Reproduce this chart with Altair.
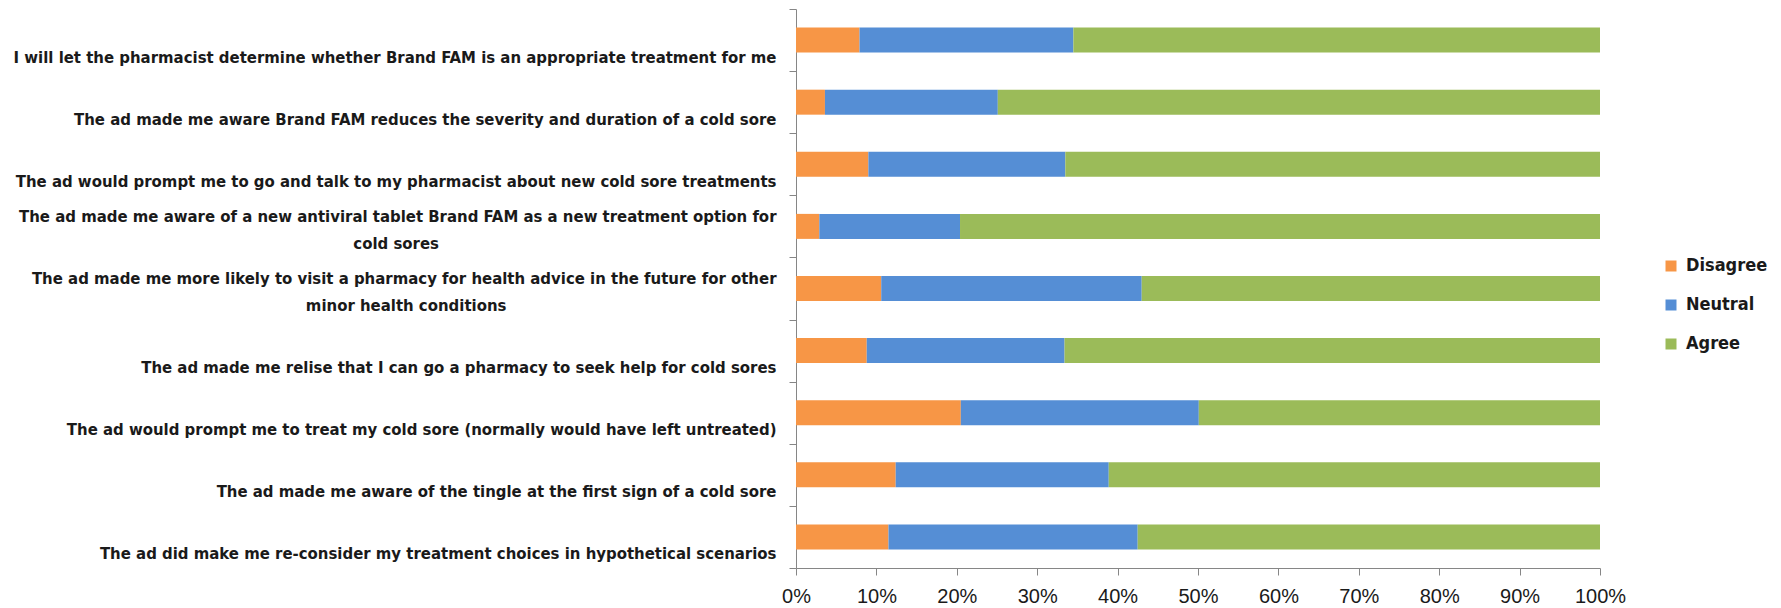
import altair as alt
import pandas as pd

# Survey statements (top to bottom) and the share of each response, in percent
statements = [
    "I will let the pharmacist determine whether Brand FAM is an appropriate treatment for me",
    "The ad made me aware Brand FAM reduces the severity and duration of a cold sore",
    "The ad would prompt me to go and talk to my pharmacist about new cold sore treatments",
    "The ad made me aware of a new antiviral tablet Brand FAM as a new treatment option for\ncold sores",
    "The ad made me more likely to visit a pharmacy for health advice in the future for other\nminor health conditions",
    "The ad made me relise that I can go a pharmacy to seek help for cold sores",
    "The ad would prompt me to treat my cold sore (normally would have left untreated)",
    "The ad made me aware of the tingle at the first sign of a cold sore",
    "The ad did make me re-consider my treatment choices in hypothetical scenarios",
]
disagree = [7.9, 3.6, 9.0, 2.9, 10.6, 8.8, 20.5, 12.4, 11.5]
neutral = [26.6, 21.5, 24.5, 17.5, 32.4, 24.6, 29.6, 26.5, 31.0]
agree = [65.5, 74.9, 66.5, 79.6, 57.0, 66.6, 49.9, 61.1, 57.5]

responses = ["Disagree", "Neutral", "Agree"]
colors = ["#F79646", "#558ED5", "#9BBB59"]
tick_values = [0, 0.1, 0.2, 0.3, 0.4, 0.5, 0.6, 0.7, 0.8, 0.9, 1.0]

rows = []
for s, d, n, a in zip(statements, disagree, neutral, agree):
    for k, (resp, val) in enumerate(zip(responses, [d, n, a])):
        rows.append({"statement": s, "response": resp, "value": val, "rank": k})
df = pd.DataFrame(rows)

AXIS_GREY = "#868686"
NARROW = "DejaVu Sans Condensed"
NBSP = "\u00a0"
ZWSP = "\u200b"

# Category labels: single-line statements sit on the second line so each label
# hangs just below its bar; in two-line statements the short second line gets
# trailing no-break spaces so it lands roughly centred under the first line.
L1 = "split(datum.label, '\\n')[0]"
L2 = "split(datum.label, '\\n')[1]"
label_expr = (
    "length(split(datum.label, '\\n')) > 1 ? "
    f"[{L1}, pad({L2}, length({L2}) + round(1.18 * (length({L1}) - length({L2})) - 25), '{NBSP}', 'right') + '{ZWSP}']"
    " : ['', datum.label]"
)

chart = (
    alt.Chart(df)
    .mark_bar(size=25)
    .encode(
        x=alt.X(
            "value:Q",
            stack="normalize",
            scale=alt.Scale(domain=[0, 1], nice=False),
            axis=alt.Axis(
                title=None,
                format=".0%",
                values=tick_values,
                grid=False,
                domainColor=AXIS_GREY,
                tickColor=AXIS_GREY,
                tickSize=7,
                labelFont="Liberation Sans",
                labelFontSize=20,
                labelColor="#1a1a1a",
                labelPadding=11,
                labelFlush=False,
            ),
        ),
        y=alt.Y(
            "statement:N",
            sort=statements,
            scale=alt.Scale(paddingInner=0, paddingOuter=0),
            axis=alt.Axis(
                title=None,
                tickBand="extent",
                domainColor=AXIS_GREY,
                tickColor=AXIS_GREY,
                tickSize=7,
                labelFont=NARROW,
                labelFontWeight="bold",
                labelFontSize=16.6,
                labelColor="#1a1a1a",
                labelPadding=13,
                labelLimit=0,
                labelLineHeight=27,
                labelExpr=label_expr,
                labelOffset=-10,
            ),
        ),
        color=alt.Color(
            "response:N",
            sort=responses,
            scale=alt.Scale(domain=responses, range=colors),
            legend=alt.Legend(
                title=None,
                orient="none",
                legendX=866,
                legendY=248,
                symbolType="square",
                symbolSize=121,
                symbolStrokeWidth=0,
                labelFont=NARROW,
                labelFontWeight="bold",
                labelFontSize=18,
                labelColor="#1a1a1a",
                labelOffset=6,
                rowPadding=21,
            ),
        ),
        order=alt.Order("rank:Q", sort="ascending"),
    )
    .properties(
        width=804,
        height=559,
        autosize=alt.AutoSizeParams(type="none"),
        padding={"left": 796, "top": 9, "right": 181, "bottom": 40},
        background="white",
    )
    .configure_view(stroke=None)
)

chart.save("out.html", embed_options={"renderer": "svg", "actions": False})
